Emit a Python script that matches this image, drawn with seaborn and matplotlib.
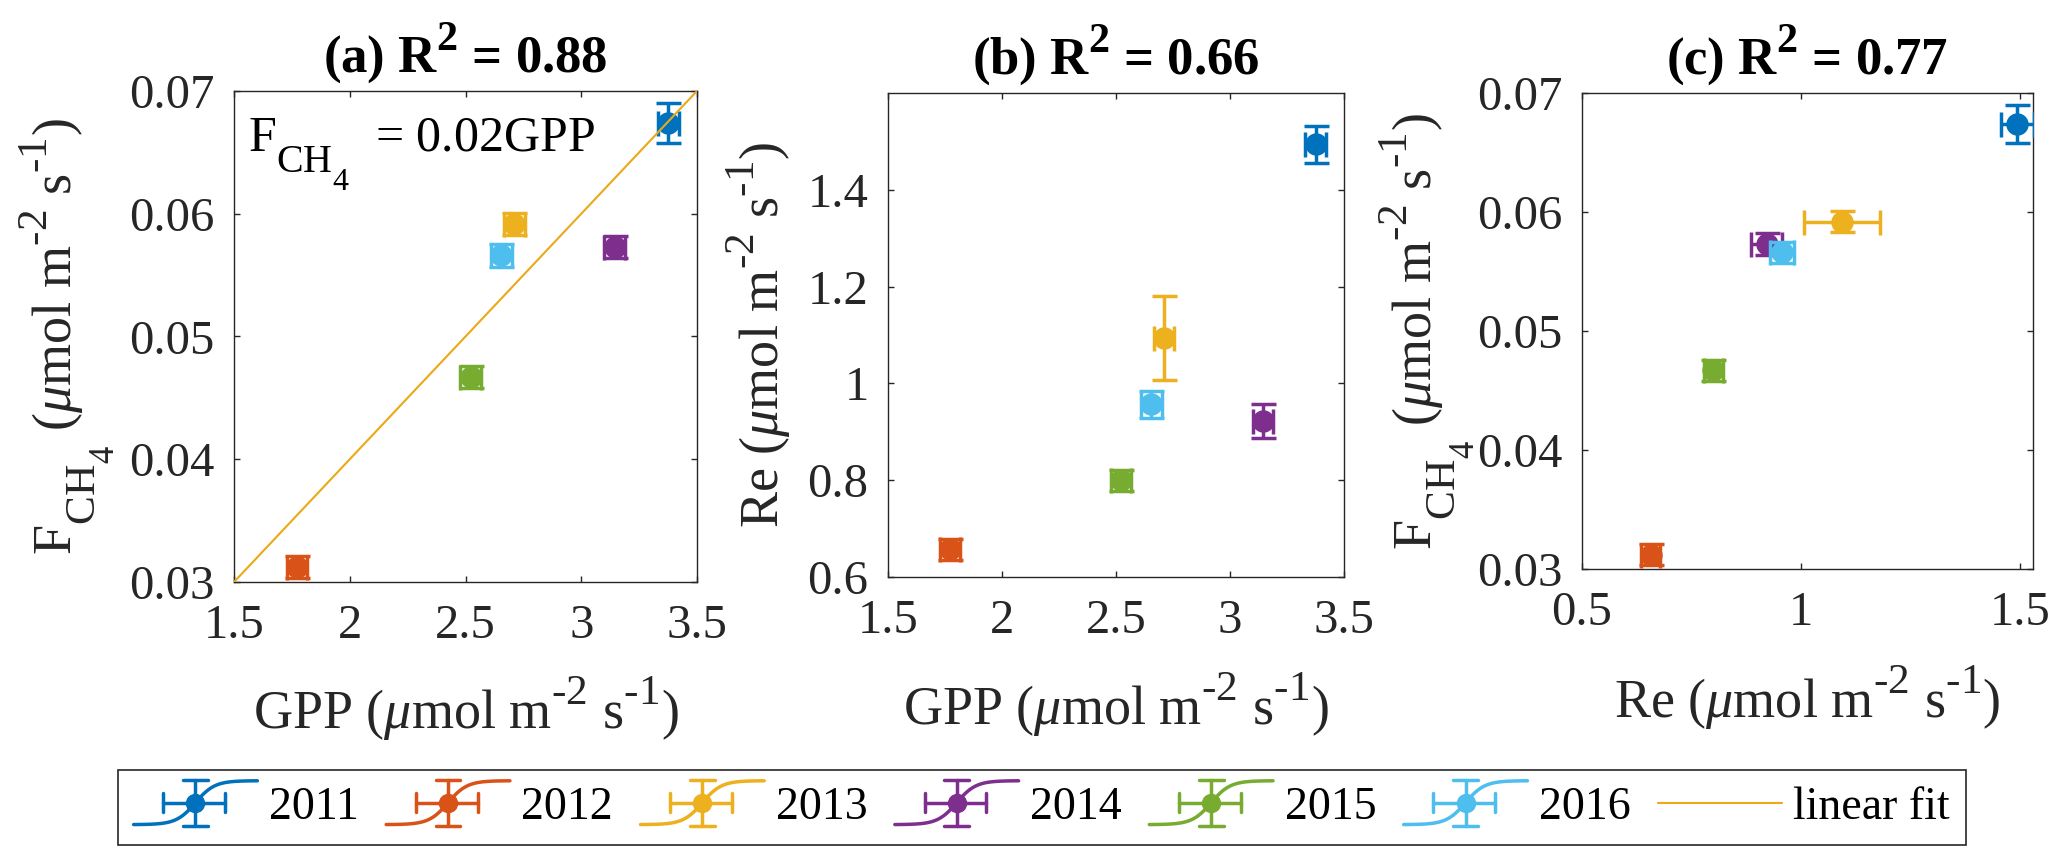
import numpy as np
import matplotlib
matplotlib.use('Agg')
import matplotlib.pyplot as plt
import matplotlib._mathtext as _mt
import seaborn as sns
from matplotlib.legend_handler import HandlerBase
from matplotlib.lines import Line2D
from matplotlib.ticker import FuncFormatter

# values (one point per year)
years = ['2011', '2012', '2013', '2014', '2015', '2016']
gpp = [3.376, 1.772, 2.710, 3.144, 2.522, 2.655]
gpp_err = [0.045, 0.045, 0.045, 0.045, 0.045, 0.045]
re = [1.494, 0.657, 1.094, 0.922, 0.800, 0.957]
re_err = [0.038, 0.022, 0.087, 0.035, 0.022, 0.028]
fch4 = [0.0674, 0.0312, 0.0592, 0.0573, 0.0467, 0.0566]
fch4_err = [0.0016, 0.0009, 0.0009, 0.0009, 0.0009, 0.0009]
colors = ['#0072BD', '#D95319', '#EDB120', '#7E2F8E', '#77AC30', '#4DBEEE']
fit_slope = 0.02
fit_color = '#EBA817'
r2_text = ['0.88', '0.66', '0.77']

gpp_ticks = [1.5, 2, 2.5, 3, 3.5]
re_ticks_y = [0.6, 0.8, 1, 1.2, 1.4]
re_ticks_x = [0.5, 1, 1.5]
fch4_ticks = [0.03, 0.04, 0.05, 0.06, 0.07]

sns.set_theme(style='ticks')
plt.rcParams['font.family'] = ['Liberation Serif', 'DejaVu Serif']
plt.rcParams['mathtext.fontset'] = 'custom'
plt.rcParams['mathtext.rm'] = 'Liberation Serif'
plt.rcParams['mathtext.it'] = 'Liberation Serif:italic'
plt.rcParams['mathtext.bf'] = 'Liberation Serif:bold'
# matlab's tex interpreter uses bigger, further offset scripts
_mt.SHRINK_FACTOR = 0.8
_mt.FontConstantsBase.sub1 = 0.95
_mt.FontConstantsBase.sup1 = 0.95

hy = '\u2010'
unit = r'($\mu$mol m$^{%s2}$ s$^{%s1}$)' % (hy, hy)
lab_f = r'$\mathrm{F_{CH_4}}$ ' + unit
lab_re = 'Re ' + unit
lab_gpp = 'GPP ' + unit

fig = plt.figure(figsize=(20.67, 8.59), dpi=100)
fig.patch.set_facecolor('white')

W, H = 2067, 859
def pos(l, r, t, b):
    return [l / W, (H - b) / H, (r - l) / W, (b - t) / H]

panels = [
    dict(rect=pos(234, 697, 91, 582), x=gpp, xe=gpp_err, y=fch4, ye=fch4_err,
         xlim=(1.5, 3.5), ylim=(0.03, 0.07), xt=gpp_ticks, yt=fch4_ticks,
         xl=lab_gpp, yl=lab_f, ylx=-0.350, xly=-0.300, tag='(a)'),
    dict(rect=pos(888, 1344, 93, 577), x=gpp, xe=gpp_err, y=re, ye=re_err,
         xlim=(1.5, 3.5), ylim=(0.6, 1.6), xt=gpp_ticks, yt=re_ticks_y,
         xl=lab_gpp, yl=lab_re, ylx=-0.239, xly=-0.306, tag='(b)'),
    dict(rect=pos(1582, 2033, 93, 569), x=re, xe=re_err, y=fch4, ye=fch4_err,
         xlim=(0.5, 1.53), ylim=(0.03, 0.07), xt=re_ticks_x, yt=fch4_ticks,
         xl=lab_re, yl=lab_f, ylx=-0.333, xly=-0.313, tag='(c)'),
]

fmt = FuncFormatter(lambda v, p: '%g' % round(v, 4))
axes = []
for k, p in enumerate(panels):
    ax = fig.add_axes(p['rect'])
    axes.append(ax)
    for i in range(len(years)):
        ax.errorbar(p['x'][i], p['y'][i], xerr=p['xe'][i], yerr=p['ye'][i],
                    fmt='none', ecolor=colors[i], elinewidth=2.5, capsize=9,
                    capthick=2.5, zorder=3 + i * 0.1)
        sns.scatterplot(x=[p['x'][i]], y=[p['y'][i]], color=colors[i], s=260,
                        linewidth=0, ax=ax, zorder=3.05 + i * 0.1)
    ax.set_xlim(p['xlim'])
    ax.set_ylim(p['ylim'])
    ax.set_xticks(p['xt'])
    ax.set_yticks(p['yt'])
    ax.xaxis.set_major_formatter(fmt)
    ax.yaxis.set_major_formatter(fmt)
    ax.tick_params(direction='in', top=True, right=True, length=4.5, width=1,
                   labelsize=35, colors='#262626')
    ax.tick_params(axis='x', pad=16)
    ax.tick_params(axis='y', pad=14)
    for s in ax.spines.values():
        s.set_visible(True)
        s.set_color('#262626')
        s.set_linewidth(1.0)
    ax.set_xlabel(p['xl'], fontsize=39, color='#262626')
    ax.set_ylabel(p['yl'], fontsize=39, color='#262626')
    ax.xaxis.label.set_va('baseline')
    ax.yaxis.label.set_va('baseline')
    ax.xaxis.set_label_coords(0.5, p['xly'])
    ax.yaxis.set_label_coords(p['ylx'], 0.5)
    ax.set_title(p['tag'] + r' $\mathbf{R^2}$ = ' + r2_text[k], fontsize=38,
                 fontweight='bold', color='black', pad=13.5)

# linear fit in panel (a)
fit_x = np.array(panels[0]['xlim'])
sns.lineplot(x=fit_x, y=fit_slope * fit_x, color=fit_color, linewidth=1.5,
             ax=axes[0], zorder=6)
axes[0].text(0.03, 0.876, r'$\mathrm{F_{CH_4}}$  = %gGPP' % fit_slope,
             transform=axes[0].transAxes, fontsize=36, va='baseline',
             color='black')


class YearHandler(HandlerBase):
    # mimics the matlab errorbar legend glyph
    def create_artists(self, legend, orig_handle, xdescent, ydescent,
                       width, height, fontsize, trans):
        c = orig_handle.get_color()
        x0, y0 = -xdescent, -ydescent
        yc = y0 + height / 2
        half = 0.72 * height
        xm = x0 + 0.5 * width
        t = np.linspace(0, 1, 80)
        sig = 1 / (1 + np.exp(-(t - 0.5) * 13))
        arts = []
        arts.append(Line2D(x0 + t * width, yc + (sig - 0.5) * 1.9 * half,
                           color=c, lw=2.5))
        xa, xb = x0 + 0.24 * width, x0 + 0.74 * width
        arts.append(Line2D([xa, xb], [yc, yc], color=c, lw=2.5))
        for xx in (xa, xb):
            arts.append(Line2D([xx, xx], [yc - 0.4 * half, yc + 0.4 * half],
                               color=c, lw=2.5))
        arts.append(Line2D([xm, xm], [yc - half, yc + half], color=c, lw=2.5))
        for yy in (yc - half, yc + half):
            arts.append(Line2D([xm - 0.1 * width, xm + 0.1 * width], [yy, yy],
                               color=c, lw=2.5))
        arts.append(Line2D([xm], [yc], marker='o', ms=13, color=c, lw=0))
        for a in arts:
            a.set_transform(trans)
        return arts


year_handles = [Line2D([], [], color=c) for c in colors]
fit_handle = Line2D([], [], color=fit_color, lw=1.5)
hmap = {h: YearHandler() for h in year_handles}
leg = fig.legend(handles=year_handles + [fit_handle], labels=years + ['linear fit'],
                 handler_map=hmap, ncol=7, fontsize=33, loc='center',
                 bbox_to_anchor=(0.504, 0.060), handlelength=2.7,
                 handletextpad=0.25, columnspacing=0.6, borderpad=0.35,
                 frameon=True, fancybox=False, framealpha=1,
                 edgecolor='#262626')
leg.get_frame().set_linewidth(1.2)
for txt in leg.get_texts():
    txt.set_color('black')

fig.savefig('out.png', dpi=100, facecolor='white')
